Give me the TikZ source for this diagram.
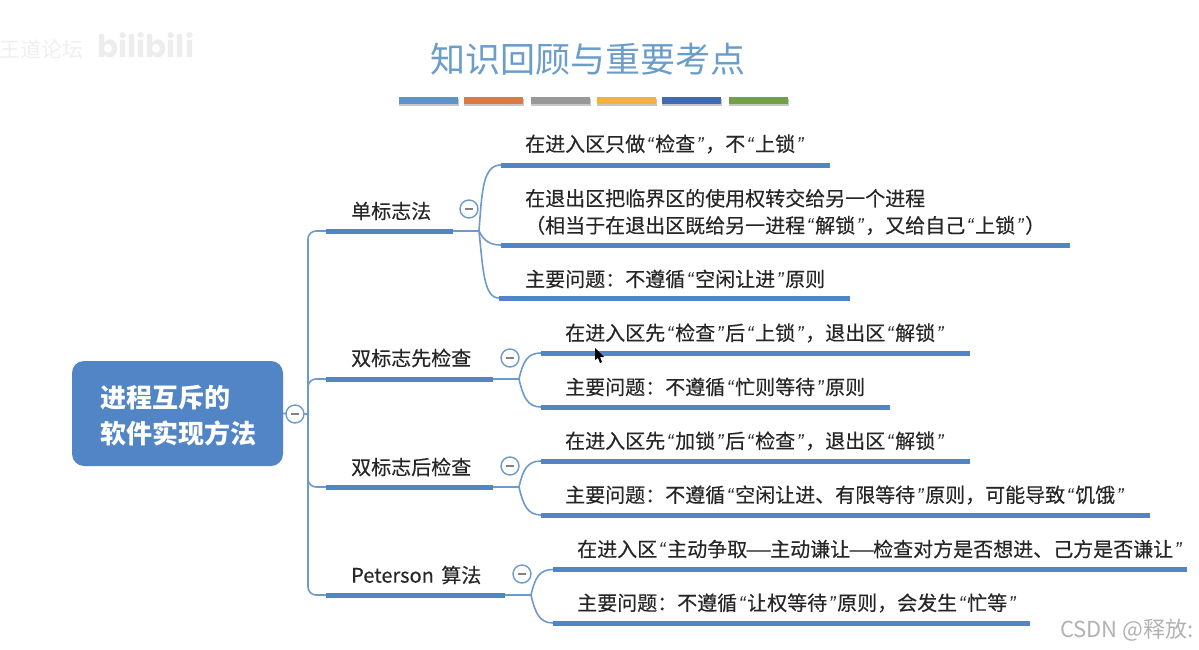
\documentclass[tikz,border=0pt]{standalone}
\usepackage{fontspec}
\setmainfont{Noto Sans CJK SC}
\newfontfamily\wmfont{Poppins}
\newfontfamily\bodyf[FakeBold=0.25]{Noto Sans CJK SC}
\newfontfamily\qf{Liberation Sans}
\newcommand{\LQ}{\makebox[10pt][c]{\qf\itshape “}}
\newcommand{\RQ}{\makebox[10pt][c]{\qf\itshape ”}}
\newcommand{\WD}{\makebox[23pt][c]{\scalebox{1.5}[1]{—}}}
\definecolor{mapblue}{HTML}{5285C6}
\definecolor{linkblue}{HTML}{6E9ACB}
\definecolor{titleblue}{HTML}{6B9DCB}
\definecolor{txt}{HTML}{262626}
\definecolor{sa}{HTML}{5C93C8}
\definecolor{sb}{HTML}{D87A43}
\definecolor{sc}{HTML}{989898}
\definecolor{sd}{HTML}{F2B33E}
\definecolor{se}{HTML}{3F6CB0}
\definecolor{sf}{HTML}{72A04A}
\tikzset{
  x=1pt,y=-1pt,
  rootbox/.style={fill=mapblue,draw=none,rounded corners=12pt,minimum width=211pt,minimum height=105pt,inner sep=0pt},
  roottext/.style={text=white,font=\fontsize{26}{36}\selectfont\bfseries,anchor=west,align=left,inner sep=0pt},
  lbl/.style={text=txt,font=\bodyf\fontsize{20}{27}\selectfont,anchor=west,align=left,inner sep=0pt},
  barline/.style={fill=mapblue,draw=none,inner sep=0pt,minimum height=5pt,anchor=west},
  link/.style={draw=linkblue,line width=1.6pt},
  foldc/.style={circle,draw=linkblue,fill=white,line width=1.4pt,minimum size=18pt,inner sep=0pt},
  stripe/.style={draw=none,inner sep=0pt,minimum width=59pt,minimum height=6.5pt,anchor=west},
  stripeshadow/.style={fill=black!22,draw=none,inner sep=0pt,minimum width=60pt,minimum height=7pt,anchor=west},
}
\newcommand{\stripeat}[3]{%
  \node[stripeshadow] (ss#1) at (#2,102.5) {};
  \node[stripe,fill=#3] (st#1) at (#2,100.5) {};}
\newcommand{\barat}[4]{\node[barline,minimum width=#4 pt] (#1) at (#2,#3) {};}
\newcommand{\foldat}[3]{\node[foldc] (#1) at (#2,#3) {};
  \draw[gray,line width=1.2pt] ([xshift=-4pt]#1.center) -- ([xshift=4pt]#1.center);}
\begin{document}
\begin{tikzpicture}
\useasboundingbox (0,0) rectangle (1199,650);
\fill[white] (0,0) rectangle (1199,650);
% watermarks
\begin{scope}
\clip (0,0) rectangle (1199,650);
\node[anchor=east,inner sep=0pt,text=black!6,font=\fontsize{21}{21}\selectfont] (wm1) at (84,49) {王道论坛};
\node[anchor=west,inner sep=0pt,text=black!7,font=\wmfont\fontsize{31}{31}\selectfont\bfseries] (wm2) at (97,45) {bilibili};
\end{scope}
\node[anchor=west,inner sep=0pt,text=black!30,font=\fontsize{22}{22}\selectfont] (wm3) at (1060,630) {CSDN @释放:};
% title
\node[inner sep=0pt,text=titleblue,font=\fontsize{35}{36}\selectfont] (title) at (588,59) {知识回顾与重要考点};
\stripeat{a}{399}{sa}
\stripeat{b}{464}{sb}
\stripeat{c}{531}{sc}
\stripeat{d}{597}{sd}
\stripeat{e}{662}{se}
\stripeat{f}{729}{sf}
% root
\node[rootbox] (root) at (177.5,413.5) {};
\node[roottext] (roottxt) at (100,416) {进程互斥的\\软件实现方法};
% bars level 1
\barat{b1}{326}{231}{127}
\barat{b2}{326}{379}{167}
\barat{b3}{326}{487}{167}
\barat{b4}{326}{595}{179}
% bars level 2
\barat{c11}{501}{165}{329}
\barat{c12}{501}{245}{569}
\barat{c13}{499}{298}{351}
\barat{c21}{541}{353}{429}
\barat{c22}{541}{407}{349}
\barat{c31}{541}{461}{429}
\barat{c32}{541}{515}{609}
\barat{c41}{553}{569.5}{634}
\barat{c42}{553}{623}{477}
% junctions
\coordinate (tr) at (308,414);
\coordinate (j1) at (479,231);
\coordinate (j2) at (519,379);
\coordinate (j3) at (519,487);
\coordinate (j4) at (531,595);
% trunk
\draw[link,rounded corners=8pt] (b1.west) -| (tr) ;
\draw[link,rounded corners=8pt] (b4.west) -| (tr) ;
\draw[link,rounded corners=8pt] (b2.west) -| (tr) ;
\draw[link,rounded corners=8pt] (b3.west) -| (tr) ;
\draw[link] (root.east) -- (tr);
% branch stems
\draw[link,line width=1.1pt] (b1.east) -- (j1);
\draw[link,line width=1.1pt] (b2.east) -- (j2);
\draw[link,line width=1.1pt] (b3.east) -- (j3);
\draw[link,line width=1.1pt] (b4.east) -- (j4);
% curves
\draw[link] (j1) .. controls (482,190) and (483,165) .. (c11.west);
\draw[link] (j1) .. controls (484,241) and (490,245) .. (c12.west);
\draw[link] (j1) .. controls (483,270) and (484,298) .. (c13.west);
\draw[link] (j2) .. controls (523,362) and (527,353) .. (c21.west);
\draw[link] (j2) .. controls (523,396) and (527,407) .. (c22.west);
\draw[link] (j3) .. controls (523,470) and (527,461) .. (c31.west);
\draw[link] (j3) .. controls (523,504) and (527,515) .. (c32.west);
\draw[link] (j4) .. controls (535,578) and (539,569.5) .. (c41.west);
\draw[link] (j4) .. controls (535,612) and (539,623) .. (c42.west);
% fold circles
\foldat{f0}{295}{414}
\foldat{f1}{469}{209}
\foldat{f2}{510}{358}
\foldat{f3}{510}{466}
\foldat{f4}{522}{574}
% labels
\node[lbl] (t1) at (351,211) {单标志法};
\node[lbl] (t2) at (351,358) {双标志先检查};
\node[lbl] (t3) at (351,467) {双标志后检查};
\node[lbl] (t4) at (351,575) {Peterson\hspace{3pt} 算法};
\node[lbl] (t11) at (525,144) {在进入区只做\LQ{}检查\RQ{}，不\LQ{}上锁\RQ};
\node[lbl] (t12) at (525,212) {在退出区把临界区的使用权转交给另一个进程\\（相当于在退出区既给另一进程\LQ{}解锁\RQ{}，又给自己\LQ{}上锁\RQ{}）};
\node[lbl] (t13) at (525,279) {主要问题：不遵循\LQ{}空闲让进\RQ{}原则};
\node[lbl] (t21) at (565,333) {在进入区先\LQ{}检查\RQ{}后\LQ{}上锁\RQ{}，退出区\LQ{}解锁\RQ};
\node[lbl] (t22) at (565,387) {主要问题：不遵循\LQ{}忙则等待\RQ{}原则};
\node[lbl] (t31) at (565,441) {在进入区先\LQ{}加锁\RQ{}后\LQ{}检查\RQ{}，退出区\LQ{}解锁\RQ};
\node[lbl] (t32) at (565,495) {主要问题：不遵循\LQ{}空闲让进、有限等待\RQ{}原则，可能导致\LQ{}饥饿\RQ};
\node[lbl] (t41) at (577,549) {在进入区\LQ{}主动争取\WD{}主动谦让\WD{}检查对方是否想进、己方是否谦让\RQ};
\node[lbl] (t42) at (577,603) {主要问题：不遵循\LQ{}让权等待\RQ{}原则，会发生\LQ{}忙等\RQ};
% mouse cursor
\fill[black] (595,348) -- (595,360) -- (598,358) -- (600,363) -- (602,362) -- (600,357) -- (604,357) -- cycle;
\end{tikzpicture}
\end{document}
